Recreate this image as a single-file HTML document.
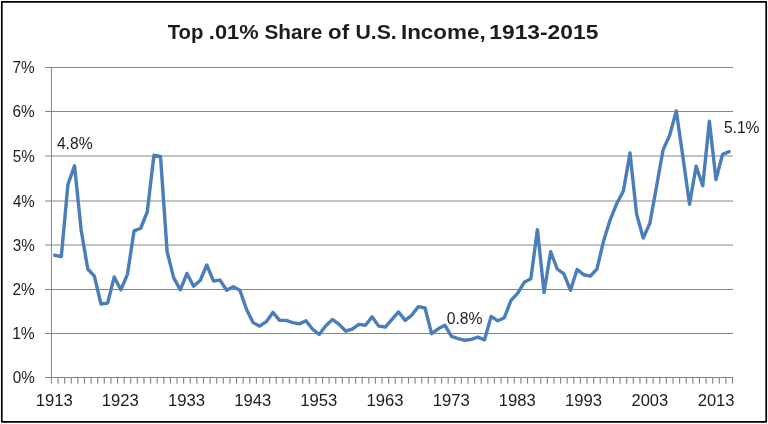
<!DOCTYPE html>
<html><head><meta charset="utf-8"><title>Top .01% Share of U.S. Income, 1913-2015</title>
<style>html,body{margin:0;padding:0;background:#fff;width:768px;height:424px;overflow:hidden}body{position:relative;font-family:"Liberation Sans",sans-serif}</style></head>
<body>
<svg width="768" height="424" viewBox="0 0 768 424" style="position:absolute;left:0;top:0;display:block;will-change:transform;opacity:0.9999">
<rect x="0" y="0" width="768" height="424" fill="#fff"/>
<rect x="1.8" y="1.8" width="764.4" height="420" fill="none" stroke="#000" stroke-width="1.7" stroke-linejoin="round"/>
<rect x="45" y="67.00" width="688" height="1" fill="#868686"/>
<rect x="45" y="111.00" width="688" height="1" fill="#868686"/>
<rect x="45" y="155.50" width="688" height="1" fill="#868686"/>
<rect x="45" y="200.50" width="688" height="1" fill="#868686"/>
<rect x="45" y="244.50" width="688" height="1" fill="#868686"/>
<rect x="45" y="289.00" width="688" height="1" fill="#868686"/>
<rect x="45" y="333.00" width="688" height="1" fill="#868686"/>
<rect x="45" y="377.00" width="688" height="1" fill="#868686"/>
<rect x="50.9" y="67" width="1" height="316.6" fill="#868686"/>
<rect x="57.44" y="378" width="1.15" height="5.7" fill="#868686"/>
<rect x="64.06" y="378" width="1.15" height="5.7" fill="#868686"/>
<rect x="70.67" y="378" width="1.15" height="5.7" fill="#868686"/>
<rect x="77.28" y="378" width="1.15" height="5.7" fill="#868686"/>
<rect x="83.89" y="378" width="1.15" height="5.7" fill="#868686"/>
<rect x="90.51" y="378" width="1.15" height="5.7" fill="#868686"/>
<rect x="97.12" y="378" width="1.15" height="5.7" fill="#868686"/>
<rect x="103.73" y="378" width="1.15" height="5.7" fill="#868686"/>
<rect x="110.34" y="378" width="1.15" height="5.7" fill="#868686"/>
<rect x="116.96" y="378" width="1.15" height="5.7" fill="#868686"/>
<rect x="123.57" y="378" width="1.15" height="5.7" fill="#868686"/>
<rect x="130.18" y="378" width="1.15" height="5.7" fill="#868686"/>
<rect x="136.79" y="378" width="1.15" height="5.7" fill="#868686"/>
<rect x="143.41" y="378" width="1.15" height="5.7" fill="#868686"/>
<rect x="150.02" y="378" width="1.15" height="5.7" fill="#868686"/>
<rect x="156.63" y="378" width="1.15" height="5.7" fill="#868686"/>
<rect x="163.24" y="378" width="1.15" height="5.7" fill="#868686"/>
<rect x="169.86" y="378" width="1.15" height="5.7" fill="#868686"/>
<rect x="176.47" y="378" width="1.15" height="5.7" fill="#868686"/>
<rect x="183.08" y="378" width="1.15" height="5.7" fill="#868686"/>
<rect x="189.70" y="378" width="1.15" height="5.7" fill="#868686"/>
<rect x="196.31" y="378" width="1.15" height="5.7" fill="#868686"/>
<rect x="202.92" y="378" width="1.15" height="5.7" fill="#868686"/>
<rect x="209.53" y="378" width="1.15" height="5.7" fill="#868686"/>
<rect x="216.15" y="378" width="1.15" height="5.7" fill="#868686"/>
<rect x="222.76" y="378" width="1.15" height="5.7" fill="#868686"/>
<rect x="229.37" y="378" width="1.15" height="5.7" fill="#868686"/>
<rect x="235.98" y="378" width="1.15" height="5.7" fill="#868686"/>
<rect x="242.60" y="378" width="1.15" height="5.7" fill="#868686"/>
<rect x="249.21" y="378" width="1.15" height="5.7" fill="#868686"/>
<rect x="255.82" y="378" width="1.15" height="5.7" fill="#868686"/>
<rect x="262.43" y="378" width="1.15" height="5.7" fill="#868686"/>
<rect x="269.05" y="378" width="1.15" height="5.7" fill="#868686"/>
<rect x="275.66" y="378" width="1.15" height="5.7" fill="#868686"/>
<rect x="282.27" y="378" width="1.15" height="5.7" fill="#868686"/>
<rect x="288.88" y="378" width="1.15" height="5.7" fill="#868686"/>
<rect x="295.50" y="378" width="1.15" height="5.7" fill="#868686"/>
<rect x="302.11" y="378" width="1.15" height="5.7" fill="#868686"/>
<rect x="308.72" y="378" width="1.15" height="5.7" fill="#868686"/>
<rect x="315.33" y="378" width="1.15" height="5.7" fill="#868686"/>
<rect x="321.95" y="378" width="1.15" height="5.7" fill="#868686"/>
<rect x="328.56" y="378" width="1.15" height="5.7" fill="#868686"/>
<rect x="335.17" y="378" width="1.15" height="5.7" fill="#868686"/>
<rect x="341.79" y="378" width="1.15" height="5.7" fill="#868686"/>
<rect x="348.40" y="378" width="1.15" height="5.7" fill="#868686"/>
<rect x="355.01" y="378" width="1.15" height="5.7" fill="#868686"/>
<rect x="361.62" y="378" width="1.15" height="5.7" fill="#868686"/>
<rect x="368.24" y="378" width="1.15" height="5.7" fill="#868686"/>
<rect x="374.85" y="378" width="1.15" height="5.7" fill="#868686"/>
<rect x="381.46" y="378" width="1.15" height="5.7" fill="#868686"/>
<rect x="388.07" y="378" width="1.15" height="5.7" fill="#868686"/>
<rect x="394.69" y="378" width="1.15" height="5.7" fill="#868686"/>
<rect x="401.30" y="378" width="1.15" height="5.7" fill="#868686"/>
<rect x="407.91" y="378" width="1.15" height="5.7" fill="#868686"/>
<rect x="414.52" y="378" width="1.15" height="5.7" fill="#868686"/>
<rect x="421.14" y="378" width="1.15" height="5.7" fill="#868686"/>
<rect x="427.75" y="378" width="1.15" height="5.7" fill="#868686"/>
<rect x="434.36" y="378" width="1.15" height="5.7" fill="#868686"/>
<rect x="440.97" y="378" width="1.15" height="5.7" fill="#868686"/>
<rect x="447.59" y="378" width="1.15" height="5.7" fill="#868686"/>
<rect x="454.20" y="378" width="1.15" height="5.7" fill="#868686"/>
<rect x="460.81" y="378" width="1.15" height="5.7" fill="#868686"/>
<rect x="467.43" y="378" width="1.15" height="5.7" fill="#868686"/>
<rect x="474.04" y="378" width="1.15" height="5.7" fill="#868686"/>
<rect x="480.65" y="378" width="1.15" height="5.7" fill="#868686"/>
<rect x="487.26" y="378" width="1.15" height="5.7" fill="#868686"/>
<rect x="493.88" y="378" width="1.15" height="5.7" fill="#868686"/>
<rect x="500.49" y="378" width="1.15" height="5.7" fill="#868686"/>
<rect x="507.10" y="378" width="1.15" height="5.7" fill="#868686"/>
<rect x="513.71" y="378" width="1.15" height="5.7" fill="#868686"/>
<rect x="520.33" y="378" width="1.15" height="5.7" fill="#868686"/>
<rect x="526.94" y="378" width="1.15" height="5.7" fill="#868686"/>
<rect x="533.55" y="378" width="1.15" height="5.7" fill="#868686"/>
<rect x="540.16" y="378" width="1.15" height="5.7" fill="#868686"/>
<rect x="546.78" y="378" width="1.15" height="5.7" fill="#868686"/>
<rect x="553.39" y="378" width="1.15" height="5.7" fill="#868686"/>
<rect x="560.00" y="378" width="1.15" height="5.7" fill="#868686"/>
<rect x="566.61" y="378" width="1.15" height="5.7" fill="#868686"/>
<rect x="573.23" y="378" width="1.15" height="5.7" fill="#868686"/>
<rect x="579.84" y="378" width="1.15" height="5.7" fill="#868686"/>
<rect x="586.45" y="378" width="1.15" height="5.7" fill="#868686"/>
<rect x="593.06" y="378" width="1.15" height="5.7" fill="#868686"/>
<rect x="599.68" y="378" width="1.15" height="5.7" fill="#868686"/>
<rect x="606.29" y="378" width="1.15" height="5.7" fill="#868686"/>
<rect x="612.90" y="378" width="1.15" height="5.7" fill="#868686"/>
<rect x="619.52" y="378" width="1.15" height="5.7" fill="#868686"/>
<rect x="626.13" y="378" width="1.15" height="5.7" fill="#868686"/>
<rect x="632.74" y="378" width="1.15" height="5.7" fill="#868686"/>
<rect x="639.35" y="378" width="1.15" height="5.7" fill="#868686"/>
<rect x="645.97" y="378" width="1.15" height="5.7" fill="#868686"/>
<rect x="652.58" y="378" width="1.15" height="5.7" fill="#868686"/>
<rect x="659.19" y="378" width="1.15" height="5.7" fill="#868686"/>
<rect x="665.80" y="378" width="1.15" height="5.7" fill="#868686"/>
<rect x="672.42" y="378" width="1.15" height="5.7" fill="#868686"/>
<rect x="679.03" y="378" width="1.15" height="5.7" fill="#868686"/>
<rect x="685.64" y="378" width="1.15" height="5.7" fill="#868686"/>
<rect x="692.25" y="378" width="1.15" height="5.7" fill="#868686"/>
<rect x="698.87" y="378" width="1.15" height="5.7" fill="#868686"/>
<rect x="705.48" y="378" width="1.15" height="5.7" fill="#868686"/>
<rect x="712.09" y="378" width="1.15" height="5.7" fill="#868686"/>
<rect x="718.70" y="378" width="1.15" height="5.7" fill="#868686"/>
<rect x="725.32" y="378" width="1.15" height="5.7" fill="#868686"/>
<rect x="731.93" y="378" width="1.15" height="5.7" fill="#868686"/>
<polyline points="54.71,255.27 61.32,256.60 67.93,184.41 74.54,165.81 81.16,230.03 87.77,269.00 94.38,276.09 100.99,303.99 107.61,303.10 114.22,276.97 120.83,289.81 127.45,274.31 134.06,230.91 140.67,228.26 147.28,211.87 153.90,155.19 160.51,156.51 167.12,251.73 173.73,277.86 180.35,289.81 186.96,273.43 193.57,286.27 200.18,280.51 206.80,265.01 213.41,280.96 220.02,280.07 226.63,290.26 233.25,286.71 239.86,290.26 246.47,309.30 253.08,322.59 259.70,326.13 266.31,321.70 272.92,312.40 279.54,320.37 286.15,320.37 292.76,322.59 299.37,323.91 305.99,320.81 312.60,329.23 319.21,334.54 325.82,325.69 332.44,319.49 339.05,324.36 345.66,331.00 352.27,329.23 358.89,324.36 365.50,325.24 372.11,316.83 378.72,326.13 385.34,327.01 391.95,319.49 398.56,311.96 405.18,320.37 411.79,315.06 418.40,306.64 425.01,307.97 431.63,333.66 438.24,328.79 444.85,325.24 451.46,336.31 458.08,338.53 464.69,340.30 471.30,339.41 477.91,337.20 484.53,339.86 491.14,316.39 497.75,320.81 504.36,317.71 510.98,300.44 517.59,293.36 524.20,282.29 530.82,278.74 537.43,229.59 544.04,292.47 550.65,251.73 557.27,269.00 563.88,273.87 570.49,290.26 577.10,269.44 583.72,274.76 590.33,276.09 596.94,269.00 603.55,241.10 610.17,219.84 616.78,203.46 623.39,191.06 630.00,152.97 636.62,214.09 643.23,238.00 649.84,223.39 656.45,187.07 663.07,149.87 669.68,135.26 676.29,110.90 682.91,156.96 689.52,204.34 696.13,166.26 702.74,185.74 709.36,121.09 715.97,179.54 722.58,154.30 729.19,151.64" fill="none" stroke="#4a7ebb" stroke-width="3.4" stroke-linejoin="round" stroke-linecap="round"/>
<text x="12.53" y="73.05" font-family="Liberation Sans, sans-serif" font-size="17" font-weight="normal" textLength="22.21" lengthAdjust="spacingAndGlyphs" fill="#1c1c1c">7%</text>
<text x="12.53" y="117.05" font-family="Liberation Sans, sans-serif" font-size="17" font-weight="normal" textLength="22.21" lengthAdjust="spacingAndGlyphs" fill="#1c1c1c">6%</text>
<text x="12.69" y="161.55" font-family="Liberation Sans, sans-serif" font-size="17" font-weight="normal" textLength="22.05" lengthAdjust="spacingAndGlyphs" fill="#1c1c1c">5%</text>
<text x="12.92" y="206.55" font-family="Liberation Sans, sans-serif" font-size="17" font-weight="normal" textLength="21.81" lengthAdjust="spacingAndGlyphs" fill="#1c1c1c">4%</text>
<text x="12.69" y="250.55" font-family="Liberation Sans, sans-serif" font-size="17" font-weight="normal" textLength="22.05" lengthAdjust="spacingAndGlyphs" fill="#1c1c1c">3%</text>
<text x="12.53" y="295.05" font-family="Liberation Sans, sans-serif" font-size="17" font-weight="normal" textLength="22.21" lengthAdjust="spacingAndGlyphs" fill="#1c1c1c">2%</text>
<text x="12.13" y="339.05" font-family="Liberation Sans, sans-serif" font-size="17" font-weight="normal" textLength="22.63" lengthAdjust="spacingAndGlyphs" fill="#1c1c1c">1%</text>
<text x="12.69" y="383.05" font-family="Liberation Sans, sans-serif" font-size="17" font-weight="normal" textLength="22.05" lengthAdjust="spacingAndGlyphs" fill="#1c1c1c">0%</text>
<text x="35.65" y="406.00" font-family="Liberation Sans, sans-serif" font-size="17" font-weight="normal" textLength="37.09" lengthAdjust="spacingAndGlyphs" fill="#1c1c1c">1913</text>
<text x="101.81" y="406.00" font-family="Liberation Sans, sans-serif" font-size="17" font-weight="normal" textLength="37.09" lengthAdjust="spacingAndGlyphs" fill="#1c1c1c">1923</text>
<text x="167.98" y="406.00" font-family="Liberation Sans, sans-serif" font-size="17" font-weight="normal" textLength="37.09" lengthAdjust="spacingAndGlyphs" fill="#1c1c1c">1933</text>
<text x="234.14" y="406.00" font-family="Liberation Sans, sans-serif" font-size="17" font-weight="normal" textLength="37.09" lengthAdjust="spacingAndGlyphs" fill="#1c1c1c">1943</text>
<text x="300.31" y="406.00" font-family="Liberation Sans, sans-serif" font-size="17" font-weight="normal" textLength="37.09" lengthAdjust="spacingAndGlyphs" fill="#1c1c1c">1953</text>
<text x="366.47" y="406.00" font-family="Liberation Sans, sans-serif" font-size="17" font-weight="normal" textLength="37.09" lengthAdjust="spacingAndGlyphs" fill="#1c1c1c">1963</text>
<text x="432.64" y="406.00" font-family="Liberation Sans, sans-serif" font-size="17" font-weight="normal" textLength="37.09" lengthAdjust="spacingAndGlyphs" fill="#1c1c1c">1973</text>
<text x="498.80" y="406.00" font-family="Liberation Sans, sans-serif" font-size="17" font-weight="normal" textLength="37.09" lengthAdjust="spacingAndGlyphs" fill="#1c1c1c">1983</text>
<text x="564.97" y="406.00" font-family="Liberation Sans, sans-serif" font-size="17" font-weight="normal" textLength="37.09" lengthAdjust="spacingAndGlyphs" fill="#1c1c1c">1993</text>
<text x="631.56" y="406.00" font-family="Liberation Sans, sans-serif" font-size="17" font-weight="normal" textLength="36.66" lengthAdjust="spacingAndGlyphs" fill="#1c1c1c">2003</text>
<text x="697.73" y="406.00" font-family="Liberation Sans, sans-serif" font-size="17" font-weight="normal" textLength="36.66" lengthAdjust="spacingAndGlyphs" fill="#1c1c1c">2013</text>
<text x="56.91" y="148.55" font-family="Liberation Sans, sans-serif" font-size="17" font-weight="normal" textLength="35.73" lengthAdjust="spacingAndGlyphs" fill="#1c1c1c">4.8%</text>
<text x="446.77" y="323.65" font-family="Liberation Sans, sans-serif" font-size="17" font-weight="normal" textLength="35.77" lengthAdjust="spacingAndGlyphs" fill="#1c1c1c">0.8%</text>
<text x="723.88" y="132.65" font-family="Liberation Sans, sans-serif" font-size="17" font-weight="normal" textLength="35.56" lengthAdjust="spacingAndGlyphs" fill="#1c1c1c">5.1%</text>
<text x="167.70" y="38.50" font-family="Liberation Sans, sans-serif" font-size="21" font-weight="bold" textLength="35.79" lengthAdjust="spacingAndGlyphs" fill="#1c1c1c">Top</text>
<text x="208.87" y="38.50" font-family="Liberation Sans, sans-serif" font-size="21" font-weight="bold" textLength="49.76" lengthAdjust="spacingAndGlyphs" fill="#1c1c1c">.01%</text>
<text x="264.48" y="38.50" font-family="Liberation Sans, sans-serif" font-size="21" font-weight="bold" textLength="57.74" lengthAdjust="spacingAndGlyphs" fill="#1c1c1c">Share</text>
<text x="328.01" y="38.50" font-family="Liberation Sans, sans-serif" font-size="21" font-weight="bold" textLength="21.07" lengthAdjust="spacingAndGlyphs" fill="#1c1c1c">of</text>
<text x="355.43" y="38.50" font-family="Liberation Sans, sans-serif" font-size="21" font-weight="bold" textLength="41.25" lengthAdjust="spacingAndGlyphs" fill="#1c1c1c">U.S.</text>
<text x="400.94" y="38.50" font-family="Liberation Sans, sans-serif" font-size="21" font-weight="bold" textLength="84.70" lengthAdjust="spacingAndGlyphs" fill="#1c1c1c">Income,</text>
<text x="489.32" y="38.50" font-family="Liberation Sans, sans-serif" font-size="21" font-weight="bold" textLength="109.00" lengthAdjust="spacingAndGlyphs" fill="#1c1c1c">1913-2015</text>
</svg>
</body></html>
